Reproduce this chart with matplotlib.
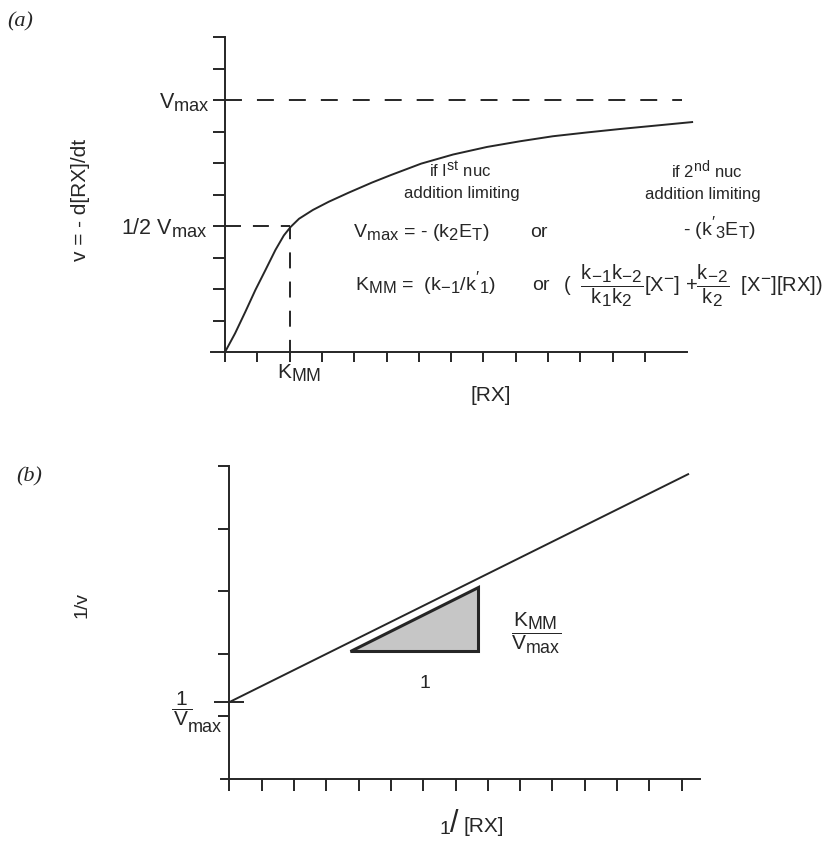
import matplotlib
matplotlib.use("Agg")
import matplotlib.pyplot as plt
from matplotlib.patches import Polygon
import matplotlib._mathtext as _mt

# subscripts in the reference are only slightly smaller than the base text
_mt.SHRINK_FACTOR = 0.85

plt.rcParams.update({
    "font.family": ["Liberation Sans", "DejaVu Sans"],
    "mathtext.fontset": "custom",
    "mathtext.rm": "Liberation Sans",
    "mathtext.it": "Liberation Sans",
    "mathtext.default": "regular",
    "lines.scale_dashes": False,
})

INK = "#262626"

# ---------------- data: panel (a) Michaelis-Menten curve ----------------
rx_a = [0.0, 0.31, 0.63, 0.94, 1.25, 1.56, 1.82, 2.03, 2.29, 2.72, 3.21, 3.83,
        4.55, 5.14, 6.07, 7.06, 8.11, 9.13, 10.15, 11.2, 12.23, 13.25, 14.46]
v_a = [0.0, 0.59, 1.28, 1.97, 2.60, 3.24, 3.70, 3.97, 4.23, 4.51, 4.77, 5.06,
       5.38, 5.62, 5.98, 6.27, 6.51, 6.69, 6.85, 6.97, 7.08, 7.18, 7.30]
v_max = 8.0
half_v_max = 4.0
k_mm = 2.0
a_xticks = list(range(0, 14))
a_yticks = list(range(1, 11))
a_xend = 14.3
a_vmax_dash_end = 14.15

# ---------------- data: panel (b) Lineweaver-Burk line ----------------
inv_rx_b = [0.0, 14.2]
inv_v_b = [1.23, 4.87]
inv_vmax = 1.23
b_xticks = list(range(0, 15))
b_long_xtick = [10]
b_yticks = list(range(1, 6))
b_xend = 14.57
tri_x = [3.73, 7.69, 7.69]
tri_y = [2.04, 2.04, 3.07]

fig = plt.figure(figsize=(8.34, 8.41), dpi=100)
fig.patch.set_facecolor("white")

LW = 1.4

def base_axes(ax, xlim, ylim, xb, yb):
    ax.set_xlim(*xlim)
    ax.set_ylim(*ylim)
    for s in ("top", "right"):
        ax.spines[s].set_visible(False)
    for s in ("left", "bottom"):
        ax.spines[s].set_position(("data", 0))
        ax.spines[s].set_linewidth(LW)
        ax.spines[s].set_color(INK)
    ax.spines["bottom"].set_bounds(*xb)
    ax.spines["left"].set_bounds(*yb)
    ax.tick_params(labelleft=False, labelbottom=False, color=INK, width=LW)
    ax.patch.set_alpha(0)

# ================= panel (a) =================
ax = fig.add_axes([0.2311, 0.5440, 0.6197, 0.4307])
base_axes(ax, (-1, 15), (-1, 10.5), (-0.45, a_xend), (0, 10))
ax.set_xticks(a_xticks)
ax.set_yticks(a_yticks)
ax.tick_params(axis="y", direction="out", length=8.6)
ax.tick_params(axis="x", direction="out", length=7.5)
ax.set_xticks([k_mm], minor=True)
ax.tick_params(axis="x", which="minor", direction="in", length=13, width=LW, color=INK)

ax.plot(rx_a, v_a, color=INK, lw=LW, solid_joinstyle="round", clip_on=False)
ax.plot([0, a_vmax_dash_end], [v_max, v_max], color=INK, lw=LW,
        linestyle=(0, (12.2, 10.8)), clip_on=False)
ax.plot([0, k_mm], [half_v_max, half_v_max], color=INK, lw=LW,
        linestyle=(0, (11.5, 8.6)), clip_on=False)
ax.plot([k_mm, k_mm], [half_v_max, 0], color=INK, lw=LW,
        linestyle=(2, (11.5, 9.5)), clip_on=False)

ax.text(-6.35, 10.48, "(a)", family="Liberation Serif", style="italic",
        fontsize=16, color=INK, ha="center", va="center")
ax.text(-4.49, 4.83, "v = - d[RX]/dt", rotation=90, fontsize=15,
        color=INK, ha="center", va="center")
ax.text(-0.46, 7.9, r"$V_{max}$", fontsize=15.5, color=INK, ha="right", va="center")
ax.text(-0.53, 3.94, r"1/2 $V_{max}$", fontsize=15.5, color=INK, ha="right", va="center")
ax.text(2.29, -0.67, r"$K_{MM}$", fontsize=15, color=INK, ha="center", va="center")
ax.text(8.24, -1.37, "[RX]", fontsize=15, color=INK, ha="center", va="center")

note = 12
ax.text(7.28, 5.56, r"if $I^{st}$ nuc", fontsize=note, color=INK, ha="center", va="baseline")
ax.text(7.34, 4.89, "addition limiting", fontsize=note, color=INK, ha="center", va="baseline")
ax.text(14.92, 5.52, r"if $2^{nd}$ nuc", fontsize=note, color=INK, ha="center", va="baseline")
ax.text(14.8, 4.85, "addition limiting", fontsize=note, color=INK, ha="center", va="baseline")

eq = 14
ax.text(3.96, 3.65, r"$V_{max}$ = - ($k_2E_T$)", fontsize=eq, color=INK, ha="left", va="baseline")
ax.text(9.44, 3.65, "or", fontsize=eq, color=INK, ha="left", va="baseline")
ax.text(14.18, 3.71, r"- ($k'_3E_T$)", fontsize=eq, color=INK, ha="left", va="baseline")
ax.text(4.02, 1.97, r"$K_{MM}$ =  ($k_{-1}/k'_1$)", fontsize=eq, color=INK, ha="left", va="baseline")
ax.text(9.50, 1.97, "or", fontsize=eq, color=INK, ha="left", va="baseline")
ax.text(10.46, 1.90,
        r"(  $\dfrac{k_{-1}k_{-2}}{k_1k_2}$[$X^{-}$] +$\dfrac{k_{-2}}{k_2}$  [$X^{-}$][RX])",
        fontsize=14.5, color=INK, ha="left", va="baseline")

# ================= panel (b) =================
bx = fig.add_axes([0.2364, 0.0290, 0.6197, 0.4466])
base_axes(bx, (-1, 15), (-0.6, 5.4), (-0.26, b_xend), (0, 5))
bx.set_xticks(b_xticks)
bx.set_yticks(b_yticks)
bx.tick_params(axis="y", direction="out", length=8.0)
bx.tick_params(axis="x", direction="out", length=8.6)
bx.set_xticks(b_long_xtick, minor=True)
bx.set_yticks([inv_vmax], minor=True)
bx.tick_params(axis="x", which="minor", direction="out", length=13, width=LW, color=INK)
bx.tick_params(axis="y", which="minor", direction="inout", length=21.6, width=LW, color=INK)

bx.plot(inv_rx_b, inv_v_b, color=INK, lw=LW, clip_on=False)
bx.add_patch(Polygon(list(zip(tri_x, tri_y)), closed=True, facecolor="#c6c6c6",
                     edgecolor=INK, lw=2.2, joinstyle="miter"))

bx.text(-6.21, 4.82, "(b)", family="Liberation Serif", style="italic",
        fontsize=16, color=INK, ha="center", va="center")
bx.text(-4.57, 2.78, "1/v", rotation=90, fontsize=14, color=INK, ha="center", va="center")
bx.text(-1.80, 1.13, r"$\dfrac{1}{\,V\,}$", fontsize=15, color=INK, ha="left", va="center")
bx.text(-1.29, 0.82, "max", fontsize=13, color=INK, ha="left", va="center")
bx.text(6.05, 1.53, "1", fontsize=14, color=INK, ha="center", va="center")
bx.text(9.49, 2.33, r"$\dfrac{K_{MM}}{V_{max}}$", fontsize=15, color=INK, ha="center", va="center")
bx.text(6.67, -0.80, "1", fontsize=14, color=INK, ha="center", va="center")
bx.text(6.95, -0.72, "/", fontsize=22, color=INK, ha="center", va="center")
bx.text(7.23, -0.75, "[RX]", fontsize=15, color=INK, ha="left", va="center")

fig.savefig("out.png", dpi=100, facecolor="white")
